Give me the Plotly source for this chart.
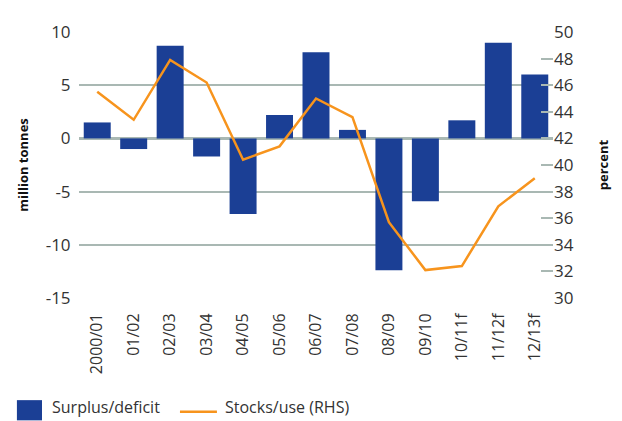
import plotly.graph_objects as go

seasons = ["2000/01", "01/02", "02/03", "03/04", "04/05", "05/06", "06/07",
           "07/08", "08/09", "09/10", "10/11f", "11/12f", "12/13f"]
surplus = [1.5, -1.0, 8.7, -1.7, -7.1, 2.2, 8.1, 0.8, -12.4, -5.9, 1.7, 9.0, 6.0]
stocks_use = [45.5, 43.4, 47.9, 46.2, 40.4, 41.4, 45.0, 43.6, 35.7, 32.1, 32.4, 36.9, 39.0]

left_ticks = [-15, -10, -5, 0, 5, 10]
left_labels = ["-15", "-10", "-5", "0", "5", "10"]

blue = "#1B3F95"
orange = "#F7941D"
grid = "#A9B8B3"
font = "Open Sans"

fig = go.Figure()
fig.add_trace(go.Bar(x=seasons, y=surplus, name="Surplus/deficit",
                     marker_color=blue, marker_line_width=0))
fig.add_trace(go.Scatter(x=seasons, y=stocks_use, name="Stocks/use (RHS)",
                         yaxis="y2", mode="lines",
                         line=dict(color=orange, width=2.5)))

# legend drawn by hand so the swatch is as big as in the original
fig.add_shape(type="rect", xref="paper", yref="paper", x0=-0.131, x1=-0.078,
              y0=-0.46, y1=-0.384, fillcolor=blue, line_width=0)
fig.add_shape(type="line", xref="paper", yref="paper", x0=0.213, x1=0.291,
              y0=-0.428, y1=-0.428, line=dict(color=orange, width=2.5))
fig.add_annotation(text="Surplus/deficit", xref="paper", yref="paper",
                   x=-0.062, y=-0.41, xanchor="left", yanchor="middle",
                   showarrow=False, font=dict(size=16, color="#333333"))
fig.add_annotation(text="Stocks/use (RHS)", xref="paper", yref="paper",
                   x=0.303, y=-0.41, xanchor="left", yanchor="middle",
                   showarrow=False, font=dict(size=16, color="#333333"))

fig.update_layout(
    width=622, height=421,
    margin=dict(l=71, r=77, t=19, b=131),
    paper_bgcolor="white", plot_bgcolor="white",
    font=dict(family=font, size=16, color="#333333"),
    bargap=0.26,
    showlegend=False,
    xaxis=dict(tickangle=-90, showgrid=False, showline=False, ticks="outside",
               ticklen=8, tickcolor="white", tickfont=dict(size=16)),
    yaxis=dict(range=[-15, 10], tickvals=left_ticks, ticktext=left_labels,
               showgrid=True, gridcolor=grid, tickfont=dict(size=17),
               gridwidth=1.5, zeroline=True, zerolinecolor=grid, zerolinewidth=2.5,
               ticks="outside", ticklen=4, tickcolor="white",
               title=dict(text="<b>million tonnes</b>",
                          font=dict(size=13, color="#111111"), standoff=14)),
    yaxis2=dict(range=[30, 50], dtick=2, overlaying="y", side="right",
                showgrid=False, zeroline=False, ticks="inside", ticklen=12,
                tickcolor=grid, tickwidth=1.5, tickfont=dict(size=17),
                title=dict(text="<b>percent</b>",
                           font=dict(size=13, color="#111111"), standoff=26)),
)

fig.write_html("out.html")
